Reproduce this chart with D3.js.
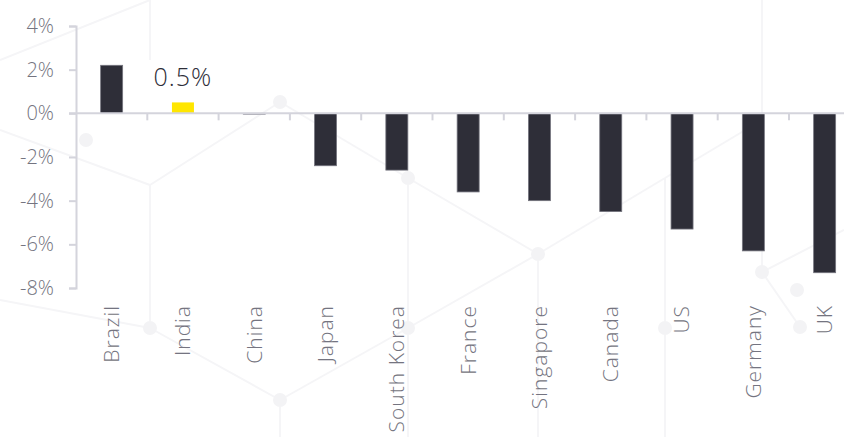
<!DOCTYPE html>
<html>
<head>
<meta charset="utf-8">
<script src="https://cdn.jsdelivr.net/npm/d3@7"></script>
<style>
  html, body { margin: 0; padding: 0; background: #ffffff; }
  svg { display: block; }
</style>
</head>
<body>
<svg id="chart" width="844" height="437"></svg>
<script>
const categories = ["Brazil", "India", "China", "Japan", "South Korea", "France", "Singapore", "Canada", "US", "Germany", "UK"];
const values = [2.2, 0.5, -0.05, -2.4, -2.6, -3.6, -4.0, -4.5, -5.3, -6.3, -7.3];
const highlight = ["India"];
const yTicks = [4, 2, 0, -2, -4, -6, -8];
const labelText = "0.5%";

const svg = d3.select("#chart");
const W = 844, H = 437;
const left = 76;
const axisColor = "#d4d4dc";
const textColor = "#747480";
const font = "'Open Sans', sans-serif";

// faint background decoration
const deco = svg.append("g").attr("stroke", "#f5f5f7").attr("stroke-width", 2).attr("fill", "none");
const decoLines = [
  [[0,60],[150,0]], [[150,0],[150,60]], [[0,130],[150,185]], [[150,185],[280,102]],
  [[280,102],[408,178]], [[408,178],[538,254]], [[538,254],[665,178]], [[665,178],[762,120]],
  [[150,185],[150,328]], [[150,328],[280,400]], [[280,400],[408,328]], [[408,328],[538,254]],
  [[538,254],[538,437]], [[665,178],[665,437]], [[762,272],[844,230]], [[762,272],[800,327]],
  [[408,178],[408,437]], [[0,300],[150,328]], [[280,400],[280,437]], [[762,0],[762,272]]
];
decoLines.forEach(l => deco.append("line").attr("x1", l[0][0]).attr("y1", l[0][1]).attr("x2", l[1][0]).attr("y2", l[1][1]));
[[280,102],[86,140],[150,328],[280,400],[408,328],[538,254],[762,272],[797,290],[800,327],[665,328],[408,178]].forEach(p =>
  svg.append("circle").attr("cx", p[0]).attr("cy", p[1]).attr("r", 7).attr("fill", "#f3f3f5"));

const x = d3.scaleBand().domain(categories).range([left, left + 11 * 71.3]).paddingInner(0).paddingOuter(0);
const y = d3.scaleLinear().domain([-8, 4]).range([288, 26]);

// y axis
const yAxis = d3.axisLeft(y).tickValues(yTicks).tickSize(7).tickPadding(15).tickFormat(d => d + "%");
const gy = svg.append("g").attr("transform", `translate(${left},0)`).call(yAxis);
gy.select(".domain").attr("stroke", axisColor).attr("stroke-width", 2);
gy.selectAll(".tick line").attr("stroke", axisColor).attr("stroke-width", 2);
gy.selectAll(".tick text").attr("fill", textColor).attr("font-size", 20)
  .attr("font-family", font).attr("font-weight", 300);

// bars
const barW = 22;
svg.append("g").selectAll("rect").data(categories).join("rect")
  .attr("x", d => x(d) + x.bandwidth() / 2 - barW / 2)
  .attr("width", barW)
  .attr("y", (d, i) => y(Math.max(0, values[i])))
  .attr("height", (d, i) => Math.max(1, Math.abs(y(values[i]) - y(0))))
  .attr("fill", d => highlight.includes(d) ? "#ffe600" : "#2e2e38")
  .attr("stroke", d => highlight.includes(d) ? "none" : (d === "China" ? "#b0b0b8" : "#74747e"))
  .attr("stroke-width", 0.8);

// x axis (zero line with ticks at band edges)
const gx = svg.append("g");
gx.append("line").attr("x1", left - 7).attr("x2", W).attr("y1", y(0)).attr("y2", y(0))
  .attr("stroke", axisColor).attr("stroke-width", 2);
gx.selectAll("line.tk").data(categories.slice(1)).join("line").attr("class", "tk")
  .attr("x1", d => x(d)).attr("x2", d => x(d))
  .attr("y1", y(0)).attr("y2", y(0) + 7)
  .attr("stroke", axisColor).attr("stroke-width", 2);

// category labels
svg.append("g").selectAll("text").data(categories).join("text")
  .attr("transform", d => `translate(${x(d) + x.bandwidth() / 2},305) rotate(-90)`)
  .attr("text-anchor", "end")
  .attr("dy", "0.35em")
  .attr("fill", textColor)
  .attr("font-size", 21)
  .attr("font-weight", 300)
  .attr("letter-spacing", 1)
  .attr("font-family", font)
  .text(d => d);

// value label for highlight
const hi = categories.indexOf(highlight[0]);
svg.append("text")
  .attr("x", x(categories[hi]) + x.bandwidth() / 2)
  .attr("y", 86)
  .attr("text-anchor", "middle")
  .attr("fill", "#2e2e38")
  .attr("font-size", 25)
  .attr("font-weight", 300)
  .attr("letter-spacing", 1)
  .attr("font-family", font)
  .text(labelText);
</script>
</body>
</html>
